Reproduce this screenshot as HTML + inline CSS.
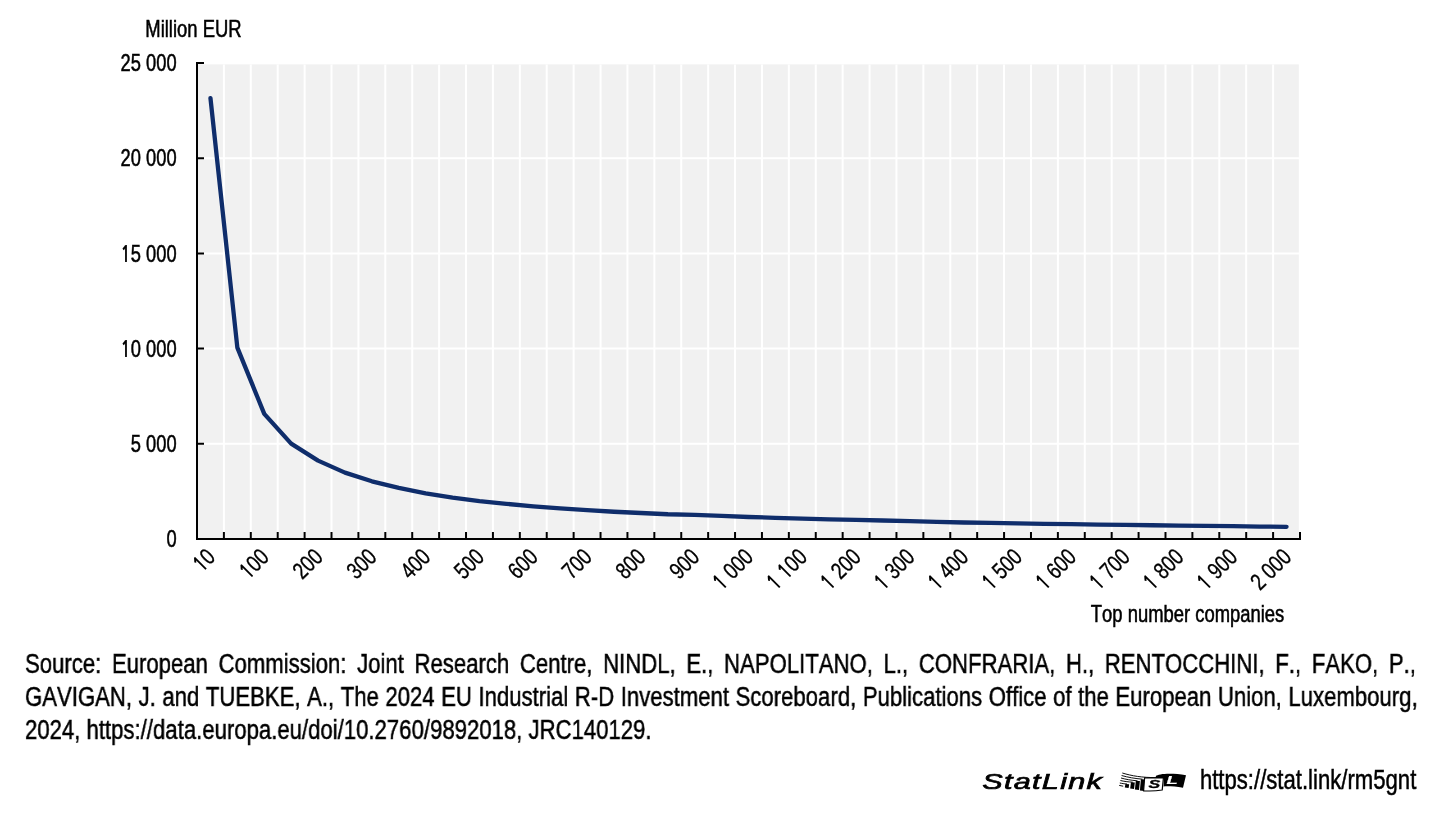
<!DOCTYPE html>
<html lang="en"><head><meta charset="utf-8"><title>Chart</title>
<style>
html,body{margin:0;padding:0;background:#fff;}
body{font-kerning:none;font-feature-settings:"kern" 0,"liga" 0;width:1444px;height:820px;overflow:hidden;position:relative;font-family:"Liberation Sans",sans-serif;color:#000;}
svg{position:absolute;left:0;top:0;will-change:transform;}
svg text{font-kerning:none;font-feature-settings:"kern" 0,"liga" 0;font-family:"Liberation Sans",sans-serif;fill:#000;stroke:#000;stroke-width:0.55px;}
.src{position:absolute;will-change:transform;-webkit-text-stroke:0.5px #000;left:25.3px;width:1696.22px;transform:scaleX(0.82);transform-origin:0 0;font-size:27px;line-height:33px;white-space:nowrap;text-align:justify;text-align-last:justify;}
.src.last{text-align-last:left;text-align:left;}
</style></head><body>
<svg width="1444" height="820" viewBox="0 0 1444 820">
<rect x="197.00" y="64.40" width="1101.80" height="474.60" fill="#F1F1F1"/>
<path d="M223.90 64.40V539.00M250.80 64.40V539.00M277.71 64.40V539.00M304.61 64.40V539.00M331.51 64.40V539.00M358.41 64.40V539.00M385.32 64.40V539.00M412.22 64.40V539.00M439.12 64.40V539.00M466.02 64.40V539.00M492.93 64.40V539.00M519.83 64.40V539.00M546.73 64.40V539.00M573.63 64.40V539.00M600.54 64.40V539.00M627.44 64.40V539.00M654.34 64.40V539.00M681.24 64.40V539.00M708.15 64.40V539.00M735.05 64.40V539.00M761.95 64.40V539.00M788.85 64.40V539.00M815.76 64.40V539.00M842.66 64.40V539.00M869.56 64.40V539.00M896.46 64.40V539.00M923.37 64.40V539.00M950.27 64.40V539.00M977.17 64.40V539.00M1004.07 64.40V539.00M1030.98 64.40V539.00M1057.88 64.40V539.00M1084.78 64.40V539.00M1111.68 64.40V539.00M1138.59 64.40V539.00M1165.49 64.40V539.00M1192.39 64.40V539.00M1219.29 64.40V539.00M1246.20 64.40V539.00M1273.10 64.40V539.00M197.00 443.80H1300.00M197.00 348.60H1300.00M197.00 253.40H1300.00M197.00 158.20H1300.00" stroke="#fff" stroke-width="2" fill="none"/>
<polyline points="210.45,98.09 237.35,347.61 264.26,413.91 291.16,443.59 318.06,460.59 344.96,472.61 371.87,481.31 398.77,487.90 425.67,493.46 452.57,497.61 479.48,501.13 506.38,503.83 533.28,506.33 560.18,508.40 587.09,510.08 613.99,511.73 640.89,512.99 667.79,514.23 694.70,514.80 721.60,515.90 748.50,517.01 775.40,517.81 802.30,518.61 829.21,519.41 856.11,519.90 883.01,520.51 909.91,521.10 936.82,521.90 963.72,522.51 990.62,522.97 1017.52,523.41 1044.43,523.83 1071.33,524.21 1098.23,524.57 1125.13,524.91 1152.04,525.25 1178.94,525.60 1205.84,525.92 1232.74,526.22 1259.65,526.53 1286.55,526.81" fill="none" stroke="#0F2D6B" stroke-width="4.3" stroke-linecap="round" stroke-linejoin="round"/>
<path d="M197.00 62.00V540.00M196.00 539.00H1301.00M223.90 539.00V532.00M250.80 539.00V532.00M277.71 539.00V532.00M304.61 539.00V532.00M331.51 539.00V532.00M358.41 539.00V532.00M385.32 539.00V532.00M412.22 539.00V532.00M439.12 539.00V532.00M466.02 539.00V532.00M492.93 539.00V532.00M519.83 539.00V532.00M546.73 539.00V532.00M573.63 539.00V532.00M600.54 539.00V532.00M627.44 539.00V532.00M654.34 539.00V532.00M681.24 539.00V532.00M708.15 539.00V532.00M735.05 539.00V532.00M761.95 539.00V532.00M788.85 539.00V532.00M815.76 539.00V532.00M842.66 539.00V532.00M869.56 539.00V532.00M896.46 539.00V532.00M923.37 539.00V532.00M950.27 539.00V532.00M977.17 539.00V532.00M1004.07 539.00V532.00M1030.98 539.00V532.00M1057.88 539.00V532.00M1084.78 539.00V532.00M1111.68 539.00V532.00M1138.59 539.00V532.00M1165.49 539.00V532.00M1192.39 539.00V532.00M1219.29 539.00V532.00M1246.20 539.00V532.00M1273.10 539.00V532.00M1300.00 539.00V532.00M197.00 443.80H204.00M197.00 348.60H204.00M197.00 253.40H204.00M197.00 158.20H204.00M197.00 63.00H204.00" stroke="#000" stroke-width="2" fill="none"/>
<text transform="translate(176.60 547.20) scale(0.76 1)" text-anchor="end" font-size="24.10">0</text>
<text transform="translate(176.60 452.00) scale(0.76 1)" text-anchor="end" font-size="24.10">5 000</text>
<text transform="translate(176.60 356.80) scale(0.76 1)" text-anchor="end" font-size="24.10"><tspan font-family="NanumGothic, sans-serif" font-weight="bold" font-size="22.17" style="stroke-width:0.20px">1</tspan>0 000</text>
<text transform="translate(176.60 261.60) scale(0.76 1)" text-anchor="end" font-size="24.10"><tspan font-family="NanumGothic, sans-serif" font-weight="bold" font-size="22.17" style="stroke-width:0.20px">1</tspan>5 000</text>
<text transform="translate(176.60 166.40) scale(0.76 1)" text-anchor="end" font-size="24.10">20 000</text>
<text transform="translate(176.60 71.20) scale(0.76 1)" text-anchor="end" font-size="24.10">25 000</text>
<text transform="translate(145.30 36.80) scale(0.785 1)" font-size="23.50">Million EUR</text>
<text transform="translate(216.55 558.50) rotate(-45) scale(0.790 1)" text-anchor="end" font-size="23.40" style="stroke-width:0.35px"><tspan font-family="NanumGothic, sans-serif" font-weight="bold" font-size="21.53" style="stroke-width:0.10px">1</tspan>0</text>
<text transform="translate(270.36 558.50) rotate(-45) scale(0.790 1)" text-anchor="end" font-size="23.40" style="stroke-width:0.35px"><tspan font-family="NanumGothic, sans-serif" font-weight="bold" font-size="21.53" style="stroke-width:0.10px">1</tspan>00</text>
<text transform="translate(324.16 558.50) rotate(-45) scale(0.790 1)" text-anchor="end" font-size="23.40" style="stroke-width:0.35px">200</text>
<text transform="translate(377.97 558.50) rotate(-45) scale(0.790 1)" text-anchor="end" font-size="23.40" style="stroke-width:0.35px">300</text>
<text transform="translate(431.77 558.50) rotate(-45) scale(0.790 1)" text-anchor="end" font-size="23.40" style="stroke-width:0.35px">400</text>
<text transform="translate(485.58 558.50) rotate(-45) scale(0.790 1)" text-anchor="end" font-size="23.40" style="stroke-width:0.35px">500</text>
<text transform="translate(539.38 558.50) rotate(-45) scale(0.790 1)" text-anchor="end" font-size="23.40" style="stroke-width:0.35px">600</text>
<text transform="translate(593.19 558.50) rotate(-45) scale(0.790 1)" text-anchor="end" font-size="23.40" style="stroke-width:0.35px">700</text>
<text transform="translate(646.99 558.50) rotate(-45) scale(0.790 1)" text-anchor="end" font-size="23.40" style="stroke-width:0.35px">800</text>
<text transform="translate(700.80 558.50) rotate(-45) scale(0.790 1)" text-anchor="end" font-size="23.40" style="stroke-width:0.35px">900</text>
<text transform="translate(754.60 558.50) rotate(-45) scale(0.790 1)" text-anchor="end" font-size="23.40" style="stroke-width:0.35px"><tspan font-family="NanumGothic, sans-serif" font-weight="bold" font-size="21.53" style="stroke-width:0.10px">1</tspan> 000</text>
<text transform="translate(808.40 558.50) rotate(-45) scale(0.790 1)" text-anchor="end" font-size="23.40" style="stroke-width:0.35px"><tspan font-family="NanumGothic, sans-serif" font-weight="bold" font-size="21.53" style="stroke-width:0.10px">1</tspan> <tspan font-family="NanumGothic, sans-serif" font-weight="bold" font-size="21.53" style="stroke-width:0.10px">1</tspan>00</text>
<text transform="translate(862.21 558.50) rotate(-45) scale(0.790 1)" text-anchor="end" font-size="23.40" style="stroke-width:0.35px"><tspan font-family="NanumGothic, sans-serif" font-weight="bold" font-size="21.53" style="stroke-width:0.10px">1</tspan> 200</text>
<text transform="translate(916.01 558.50) rotate(-45) scale(0.790 1)" text-anchor="end" font-size="23.40" style="stroke-width:0.35px"><tspan font-family="NanumGothic, sans-serif" font-weight="bold" font-size="21.53" style="stroke-width:0.10px">1</tspan> 300</text>
<text transform="translate(969.82 558.50) rotate(-45) scale(0.790 1)" text-anchor="end" font-size="23.40" style="stroke-width:0.35px"><tspan font-family="NanumGothic, sans-serif" font-weight="bold" font-size="21.53" style="stroke-width:0.10px">1</tspan> 400</text>
<text transform="translate(1023.62 558.50) rotate(-45) scale(0.790 1)" text-anchor="end" font-size="23.40" style="stroke-width:0.35px"><tspan font-family="NanumGothic, sans-serif" font-weight="bold" font-size="21.53" style="stroke-width:0.10px">1</tspan> 500</text>
<text transform="translate(1077.43 558.50) rotate(-45) scale(0.790 1)" text-anchor="end" font-size="23.40" style="stroke-width:0.35px"><tspan font-family="NanumGothic, sans-serif" font-weight="bold" font-size="21.53" style="stroke-width:0.10px">1</tspan> 600</text>
<text transform="translate(1131.23 558.50) rotate(-45) scale(0.790 1)" text-anchor="end" font-size="23.40" style="stroke-width:0.35px"><tspan font-family="NanumGothic, sans-serif" font-weight="bold" font-size="21.53" style="stroke-width:0.10px">1</tspan> 700</text>
<text transform="translate(1185.04 558.50) rotate(-45) scale(0.790 1)" text-anchor="end" font-size="23.40" style="stroke-width:0.35px"><tspan font-family="NanumGothic, sans-serif" font-weight="bold" font-size="21.53" style="stroke-width:0.10px">1</tspan> 800</text>
<text transform="translate(1238.84 558.50) rotate(-45) scale(0.790 1)" text-anchor="end" font-size="23.40" style="stroke-width:0.35px"><tspan font-family="NanumGothic, sans-serif" font-weight="bold" font-size="21.53" style="stroke-width:0.10px">1</tspan> 900</text>
<text transform="translate(1292.65 558.50) rotate(-45) scale(0.790 1)" text-anchor="end" font-size="23.40" style="stroke-width:0.35px">2 000</text>
<text transform="translate(1284.30 622.00) scale(0.801 1)" text-anchor="end" font-size="23.00">Top number companies</text>
<text transform="translate(982.2 788.6) scale(1.39 1)" font-size="22" font-style="italic" letter-spacing="0.95" style="stroke-width:0.7px">StatLink</text>
<g fill="none" stroke="#000" stroke-width="0.95">
<path d="M1122.3 773 C1132 776 1142 777.6 1156 777.6"/>
<path d="M1121.6 775.5 C1128 777.3 1135 778.6 1142.5 779.2"/>
<path d="M1121 778 C1126 779.4 1131 780.3 1137.5 780.8"/>
<path d="M1120.4 780.5 C1124 781.4 1128 781.9 1132.8 782.2"/>
<path d="M1119.8 783 C1122 783.5 1124 783.8 1127 784"/>
<path d="M1119.2 785.4 L1123.2 786.2"/>
</g>
<g fill="#000" stroke="none">
<path d="M1125.4 784 L1129.2 784.2 L1128.6 787.9 L1124.8 787.4Z"/>
<path d="M1131 782.2 L1134.8 782.4 L1134 789 L1130.2 788.5Z"/>
<path d="M1135.8 780.9 L1139.9 781.1 L1139 790 L1134.9 789.5Z"/>
<path d="M1140.9 779.3 L1145.2 779.5 L1144.2 791 L1139.9 790.5Z"/>
<path d="M1156 776 C1158 773.6 1172 772.6 1186 775.2 L1183 787.8 C1176 786.6 1170 786.2 1163.6 786.4 L1163.8 778 L1155.4 777.9Z"/>
</g>
<path d="M1144.6 777.9 L1163.4 778 L1162.2 790 C1156 791 1150 791.2 1143.6 790.8Z" fill="#fff" stroke="#000" stroke-width="1.2"/>
<text transform="translate(1148.4 788.2) scale(1.6 1)" font-size="11" font-style="italic" font-weight="bold" style="stroke-width:0.3px">S</text>
<text transform="translate(1166.6 783.9) scale(1.6 1)" font-size="11.5" font-style="italic" font-weight="bold" style="fill:#fff;stroke:#fff;stroke-width:0.2px">L</text>
<text transform="translate(1416.3 788.7) scale(0.82 1)" text-anchor="end" font-size="27" style="stroke-width:0.5px">https://stat.link/rm5gnt</text>
</svg>
<div class="src" style="top:647.8px">Source: European Commission: Joint Research Centre, NINDL, E., NAPOLITANO, L., CONFRARIA, H., RENTOCCHINI, F., FAKO, P.,</div>
<div class="src" style="top:680.8px;width:1698.4px">GAVIGAN, J. and TUEBKE, A., The 2024 EU Industrial R-D Investment Scoreboard, Publications Office of the European Union, Luxembourg,</div>
<div class="src last" style="top:713.8px">2024, https://data.europa.eu/doi/10.2760/9892018, JRC140129.</div>
</body></html>
